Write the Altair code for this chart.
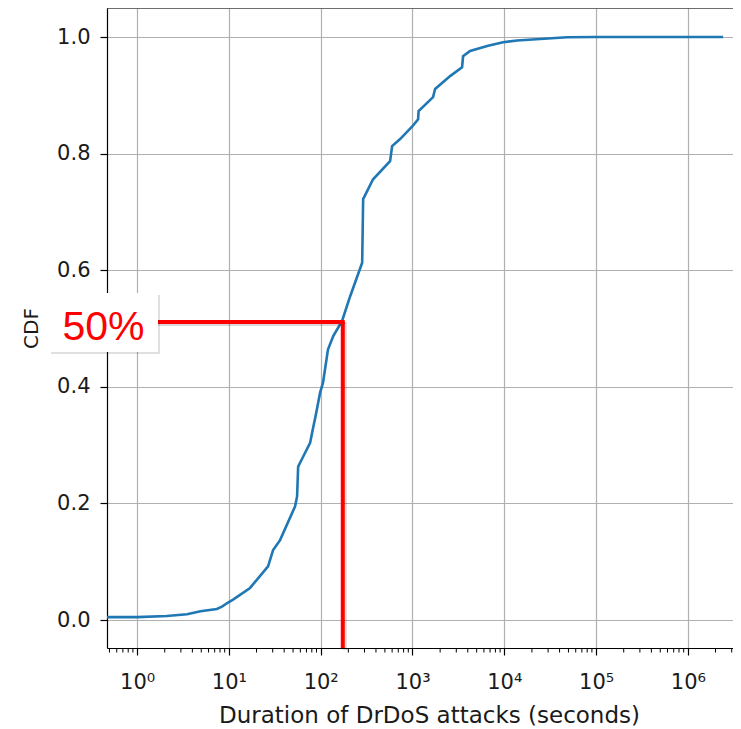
import altair as alt
import pandas as pd

# CDF of DrDoS attack durations
durations = [0.47, 1, 2.1, 3.5, 4.9, 7.4, 8.4, 9.8, 11.1, 17,
             26.7, 30.3, 36.1, 52.6, 55.3, 56.8, 64.3, 76.7, 82.7, 88,
             98.5, 106, 120, 137, 171, 209, 237, 283, 290, 372,
             570, 600, 733, 1000, 1151, 1165, 1676, 1763, 2570, 3467,
             3556, 4238, 6663, 9710, 13770, 48300, 100000, 2420000]
cdf_values = [0.005, 0.005, 0.007, 0.010, 0.015, 0.019, 0.023, 0.030, 0.035, 0.055,
              0.092, 0.12, 0.137, 0.195, 0.212, 0.263, 0.28, 0.304, 0.33, 0.35,
              0.39, 0.407, 0.464, 0.487, 0.513, 0.555, 0.579, 0.613, 0.722, 0.756,
              0.787, 0.813, 0.825, 0.847, 0.859, 0.873, 0.897, 0.911, 0.933, 0.948,
              0.967, 0.976, 0.985, 0.991, 0.994, 0.9995, 1.0, 1.0]

x_major_ticks = [1, 10, 100, 1000, 10000, 100000, 1000000]
y_ticks = [0.0, 0.2, 0.4, 0.6, 0.8, 1.0]
x_domain = [0.47, 3.1e6]
y_domain = [-0.048, 1.0498]

median_duration = 174
median_level = 0.511
annotation_label = "50%"

minor_ticks = [k * 10.0 ** d for d in range(-1, 7) for k in range(2, 10)
               if x_domain[0] <= k * 10.0 ** d <= x_domain[1]]

W, H = 626, 640
FONT = "DejaVu Sans"
TXT = "#1a1a1a"

curve_df = pd.DataFrame({"duration": durations, "cdf": cdf_values,
                         "order": list(range(len(durations)))})

xscale = alt.Scale(type="log", domain=x_domain, nice=False)
yscale = alt.Scale(domain=y_domain, nice=False, zero=False)

sup = "['\u2070','\u00b9','\u00b2','\u00b3','\u2074','\u2075','\u2076']"

curve = alt.Chart(curve_df).mark_line(color="#1f77b4", strokeWidth=2.6).encode(
    x=alt.X("duration:Q", scale=xscale,
            axis=alt.Axis(values=x_major_ticks, title="Duration of DrDoS attacks (seconds)",
                          labelExpr="'10' + " + sup + "[round(log(datum.value)/LN10)]",
                          labelFontSize=21, labelFont=FONT, labelColor=TXT,
                          labelPadding=16, tickSize=7, tickWidth=1.2, tickColor="black",
                          domainColor="black", domainWidth=1.2,
                          grid=True, gridColor="#b0b0b0", gridWidth=1.2,
                          titleFont=FONT, titleFontSize=23, titleFontWeight="normal",
                          titleColor=TXT, titlePadding=12, titleX=322, labelFlush=False)),
    y=alt.Y("cdf:Q", scale=yscale,
            axis=alt.Axis(values=y_ticks, format=".1f", title="CDF",
                          labelFontSize=21, labelFont=FONT, labelColor=TXT,
                          labelPadding=10, tickSize=7, tickWidth=1.2, tickColor="black",
                          domainColor="black", domainWidth=1.2,
                          grid=True, gridColor="#b0b0b0", gridWidth=1.2,
                          titleFont=FONT, titleFontSize=20, titleFontWeight="normal",
                          titleColor=TXT, titlePadding=15, labelFlush=False)),
    order="order:Q",
)

minor_df = pd.DataFrame({"m": minor_ticks})
minor = alt.Chart(minor_df).mark_rule(color="black", strokeWidth=1).encode(
    x=alt.X("m:Q", scale=xscale), y=alt.value(H), y2=alt.value(H + 4.5))

top_border = alt.Chart(pd.DataFrame({"a": [0]})).mark_rule(color="black", strokeWidth=1.2).encode(
    x=alt.value(0), x2=alt.value(W), y=alt.value(0))

h_df = pd.DataFrame({"x1": [x_domain[0]], "x2": [median_duration], "y": [median_level]})
v_df = pd.DataFrame({"x": [median_duration], "y1": [y_domain[0]], "y2": [median_level]})

h_shadow = alt.Chart(h_df).mark_rule(color="black", opacity=0.15, strokeWidth=4,
                                     xOffset=2, yOffset=2, x2Offset=2, y2Offset=2).encode(
    x=alt.X("x1:Q", scale=xscale), x2="x2:Q", y=alt.Y("y:Q", scale=yscale))
v_shadow = alt.Chart(v_df).mark_rule(color="black", opacity=0.15, strokeWidth=4,
                                     xOffset=2, x2Offset=2, yOffset=2).encode(
    x=alt.X("x:Q", scale=xscale), y=alt.Y("y1:Q", scale=yscale), y2="y2:Q")
h_line = alt.Chart(h_df).mark_rule(color="#ff0000", strokeWidth=4, strokeCap="square").encode(
    x=alt.X("x1:Q", scale=xscale), x2="x2:Q", y=alt.Y("y:Q", scale=yscale))
v_line = alt.Chart(v_df).mark_rule(color="#ff0000", strokeWidth=4).encode(
    x=alt.X("x:Q", scale=xscale), y=alt.Y("y1:Q", scale=yscale), y2="y2:Q")

lab_df = pd.DataFrame({"label": [annotation_label]})
box_shadow = alt.Chart(lab_df).mark_rect(fill="black", opacity=0.12).encode(
    x=alt.value(-56), x2=alt.value(53), y=alt.value(287), y2=alt.value(346))
box = alt.Chart(lab_df).mark_rect(fill="white").encode(
    x=alt.value(-58), x2=alt.value(51), y=alt.value(285), y2=alt.value(344))
label = alt.Chart(lab_df).mark_text(font="Liberation Sans", fontSize=41, color="#ff0000",
                                    align="center", baseline="alphabetic").encode(
    x=alt.value(-3.5), y=alt.value(332), text="label:N")

chart = alt.layer(curve, minor, top_border, h_shadow, v_shadow, h_line, v_line,
                  box_shadow, box, label).properties(
    width=W, height=H,
    autosize=alt.AutoSizeParams(type="none"),
    padding={"left": 99, "top": 0, "right": 0, "bottom": 84},
).configure_view(stroke=None).configure(background="white")

chart.save("out.html", embed_options={"renderer": "svg", "actions": False})
